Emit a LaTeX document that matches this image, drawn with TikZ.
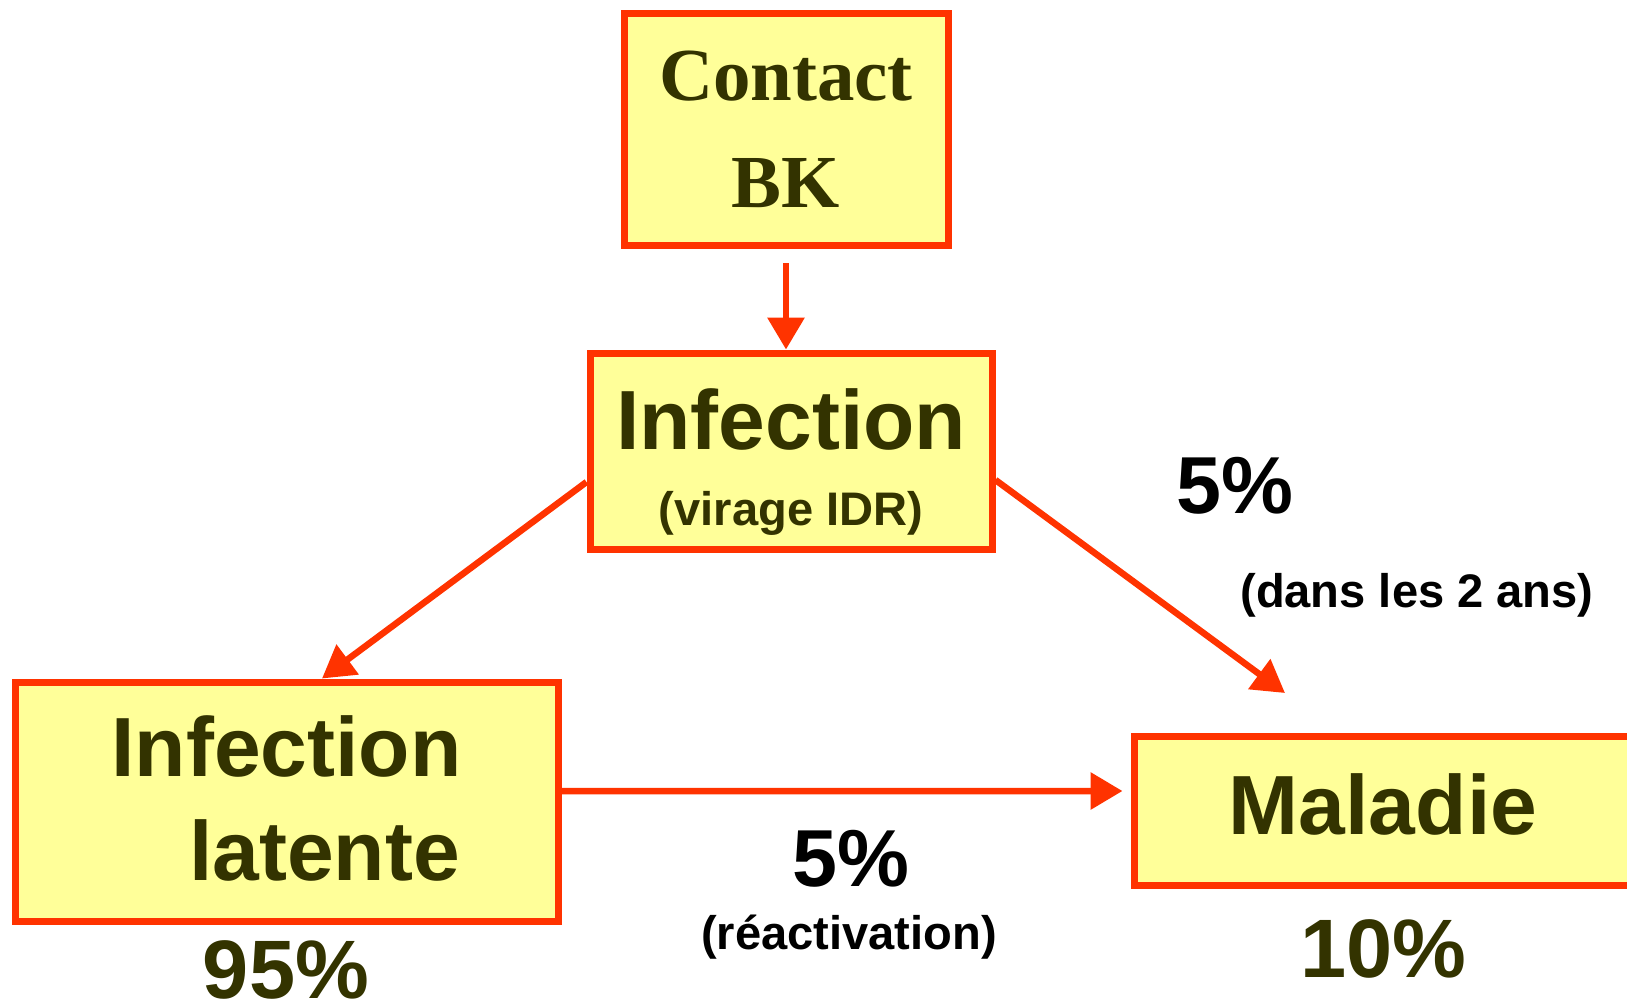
\documentclass[tikz,border=0pt]{standalone}
\usepackage{fontspec}
\setmainfont{Liberation Sans}
\newfontfamily\timesfont{Liberation Serif}
\usetikzlibrary{arrows.meta}

\definecolor{boxred}{HTML}{FF3300}
\definecolor{boxfill}{HTML}{FFFF99}
\definecolor{txtolive}{HTML}{333300}

\begin{document}
\begin{tikzpicture}[
  box/.style={draw=boxred, fill=boxfill, line width=0.07cm, text=txtolive, align=center, inner sep=0pt},
  arr/.style={draw=boxred, line width=0.065cm, -{Triangle[length=0.32cm,width=0.36cm]}},
  bigtxt/.style={font=\bfseries\fontsize{23.9}{29.6}\selectfont},
  smalltxt/.style={font=\bfseries\fontsize{13.4}{16}\selectfont}
]
\useasboundingbox (0,0) rectangle (16.27,-10.04);

% boxes
\node[box, minimum width=3.24cm, minimum height=2.32cm,
  font=\timesfont\bfseries\fontsize{21.3}{30.4}\selectfont] (contact) at (7.86,-1.295) {Contact\\BK};
\node[box, minimum width=4.02cm, minimum height=1.96cm,
  font=\bfseries\fontsize{13.4}{21.6}\selectfont] (infection) at (7.91,-4.51)
  {\rule{0pt}{23.5pt}{\fontsize{23.9}{21.6}\selectfont Infection}\\(virage IDR)};
\node[box, bigtxt, text depth=1.8pt, minimum width=5.43cm, minimum height=2.39cm] (latente) at (2.865,-8.015)
  {Infection\\\hspace*{0.76cm}latente};
\node[box, bigtxt, text depth=3.5pt, minimum width=4.98cm, minimum height=1.49cm] (maladie) at (13.83,-8.105) {Maladie};

% labels
\node[font=\bfseries\fontsize{23}{23}\selectfont] (pcthaut) at (12.35,-4.86) {5\%};
\node[smalltxt] (deuxans) at (14.17,-5.95) {(dans les 2 ans)};
\node[font=\bfseries\fontsize{23}{23}\selectfont] (pctbas) at (8.51,-8.59) {5\%};
\node[smalltxt] (reactiv) at (8.49,-9.37) {(réactivation)};
\node[font=\bfseries\fontsize{23.6}{23.6}\selectfont, text=txtolive] (pctlat) at (2.86,-9.70) {95\%};
\node[font=\bfseries\fontsize{23.6}{23.6}\selectfont, text=txtolive] (pctmal) at (13.83,-9.49) {10\%};

% arrows
\coordinate (tipM) at (12.85,-6.93);
\draw[arr, shorten <=0.14cm] (contact.south) -- (contact.south |- infection.north);
\draw[arr] ([yshift=-0.31cm]infection.west) -- ([xshift=0.355cm]latente.north);
\draw[arr] ([yshift=-0.29cm]infection.east) -- (tipM);
\draw[arr, shorten >=0.08cm] ([yshift=0.105cm]latente.east) -- ([yshift=0.195cm]maladie.west);

\end{tikzpicture}
\end{document}
